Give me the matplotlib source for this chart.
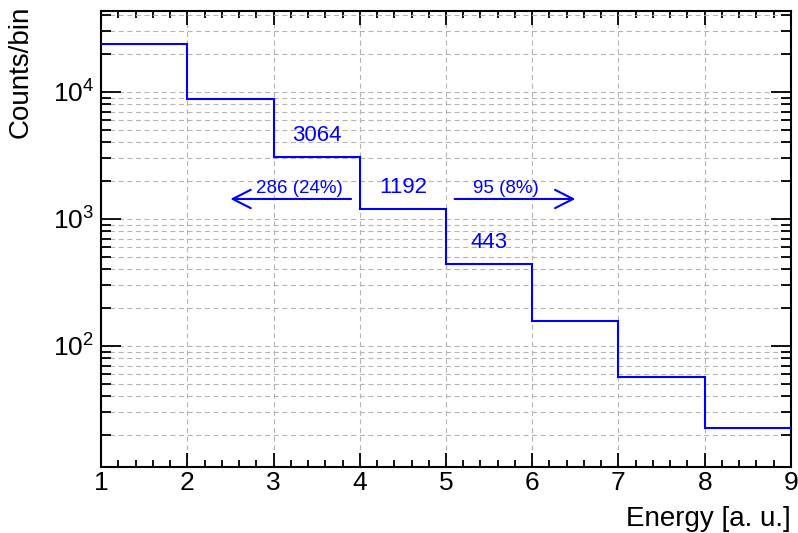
import numpy as np
import matplotlib
matplotlib.use("Agg")
import matplotlib.pyplot as plt
from matplotlib.ticker import MultipleLocator, LogLocator, NullFormatter, LogFormatterMathtext

# histogram contents
edges = [1, 2, 3, 4, 5, 6, 7, 8, 9]
counts = [23750, 8760, 3064, 1192, 443, 157, 57, 22.6]

# bins that get their content written above them
labelled_bins = [2, 3, 4]

# side annotations: text, text x, arrow start x, arrow end x
side_texts = ["286 (24%)", "95 (8%)"]
side_text_x = [3.3, 5.7]
arrow_from = [3.9, 5.1]
arrow_to = [2.5, 6.5]

plt.rcParams['font.family'] = ['Liberation Sans', 'DejaVu Sans']
plt.rcParams['mathtext.default'] = 'regular'
plt.rcParams['lines.scale_dashes'] = False

fig = plt.figure(figsize=(7.98, 5.33), dpi=100)
ax = fig.add_axes([0.1266, 0.1244, 0.9912 - 0.1266, 0.980 - 0.1244])

ax.stairs(counts, edges, baseline=None, color='blue', lw=1.5, zorder=3)

ax.set_yscale('log')
ax.set_xlim(1, 9)
ax.set_ylim(11.2, 43650)

# ROOT like ticks on every side
ax.xaxis.set_major_locator(MultipleLocator(1))
ax.xaxis.set_minor_locator(MultipleLocator(0.2))
ax.yaxis.set_major_locator(LogLocator(base=10))
ax.yaxis.set_minor_locator(LogLocator(base=10, subs=np.arange(2, 10)))
ax.yaxis.set_major_formatter(LogFormatterMathtext())
ax.yaxis.set_minor_formatter(NullFormatter())

ax.tick_params(axis='both', which='both', direction='in', top=True, right=True,
               labelsize=19, color='black')
ax.tick_params(axis='x', which='major', length=10, width=1.3, pad=3)
ax.tick_params(axis='x', which='minor', length=5, width=1.3)
ax.tick_params(axis='y', which='major', length=14.5, width=1.3, pad=5)
ax.tick_params(axis='y', which='minor', length=7.2, width=1.3)
for sp in ax.spines.values():
    sp.set_linewidth(1.5)

gstyle = dict(ls=(0, (3.6, 2.6)), color='#b4b4b4', lw=0.8)
ax.grid(True, which='major', axis='x', **gstyle)
ax.grid(True, which='both', axis='y', **gstyle)
ax.set_axisbelow(True)

# bin contents
for i in labelled_bins:
    xc = 0.5 * (edges[i] + edges[i + 1])
    ax.text(xc, counts[i] * 1.22, f"{int(counts[i])}", color='blue',
            fontsize=16, ha='center', va='bottom')

# arrows left and right of the central bin
y_arrow = counts[3] * 1.205
for txt, tx, x0, x1 in zip(side_texts, side_text_x, arrow_from, arrow_to):
    ax.annotate('', xy=(x1, y_arrow), xytext=(x0, y_arrow),
                arrowprops=dict(arrowstyle='->,head_length=0.65,head_width=0.33',
                                mutation_scale=20, color='blue', lw=1.5,
                                shrinkA=0, shrinkB=0))
    ax.text(tx, y_arrow * 1.03, txt, color='blue', fontsize=13.5,
            ha='center', va='bottom')

fig.text(21 / 798, 1 - 6 / 533, "Counts/bin", rotation=90, fontsize=20,
         ha='center', va='top')
fig.text(791 / 798, 1 - 506 / 533, "Energy [a. u.]", fontsize=20,
         ha='right', va='top')

fig.savefig("out.png", dpi=100)
